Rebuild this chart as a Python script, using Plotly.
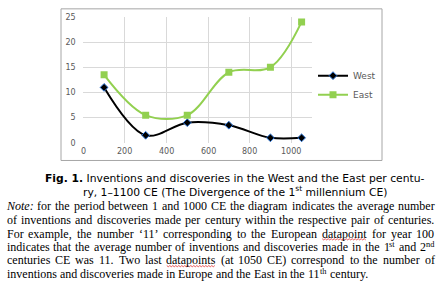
import re
import plotly.graph_objects as go

years = [100, 300, 500, 700, 900, 1050]
west = [11, 1.5, 4, 3.5, 1, 1]
east = [13.5, 5.5, 5.5, 14, 15, 24]
x_ticks = [0, 200, 400, 600, 800, 1000]
y_ticks = [0, 5, 10, 15, 20, 25]

W, H = 442, 289

def px(x):
    return x / W

def py(y):
    return 1 - y / H

fig = go.Figure()
fig.add_trace(go.Scatter(
    x=years, y=west, name="West", mode="lines+markers",
    line=dict(color="#000000", width=2, shape="spline", smoothing=1.0),
    marker=dict(symbol="diamond", size=6, color="#000000",
                line=dict(color="#2E75D6", width=1)),
))
fig.add_trace(go.Scatter(
    x=years, y=east, name="East", mode="lines+markers",
    line=dict(color="#92D050", width=2, shape="spline", smoothing=1.0),
    marker=dict(symbol="square", size=7, color="#92D050"),
))

tick_font = dict(family="DejaVu Sans", size=8, color="#595959")
fig.update_layout(
    width=W, height=H,
    margin=dict(l=0, r=0, t=0, b=0),
    paper_bgcolor="white", plot_bgcolor="white",
    xaxis=dict(domain=[px(83.3), px(312)], range=[0, 1100],
               tickvals=x_ticks, showgrid=True, gridcolor="#D9D9D9", gridwidth=1,
               zeroline=False, showline=False, ticks="", showticklabels=False,
               fixedrange=True),
    yaxis=dict(domain=[py(143.3), py(13.3)], range=[0, 25],
               tickvals=y_ticks, showgrid=True, gridcolor="#D9D9D9", gridwidth=1,
               zeroline=False, showline=False, ticks="outside", ticklen=5,
               tickcolor="rgba(0,0,0,0)", tickfont=tick_font, fixedrange=True),
    legend=dict(x=px(313), y=py(59), xanchor="left", yanchor="top",
                font=dict(family="DejaVu Sans", size=9, color="#595959"),
                itemwidth=30, bgcolor="rgba(0,0,0,0)", tracegroupgap=0),
    showlegend=True,
)

# x tick labels placed on the x scale
for v in x_ticks:
    fig.add_annotation(text=str(v), xref="x", yref="paper", x=v, y=py(152),
                       xanchor="center", yanchor="middle", showarrow=False,
                       font=tick_font, borderpad=0)

# chart frame
fig.add_shape(type="rect", xref="paper", yref="paper",
              x0=px(61), x1=px(382), y0=py(161.5), y1=py(5),
              line=dict(color="#A6A6A6", width=1), fillcolor="rgba(0,0,0,0)")

cap_font = dict(family="DejaVu Sans", size=10.75, color="#000000")
caption = [
    "<b>Fig. 1.</b> Inventions and discoveries in the West and the East per centu-",
    "ry, 1\u20131100 CE (The Divergence of the 1<sup>st</sup> millennium CE)",
]
cap_y = [180, 194]
for t, yy in zip(caption, cap_y):
    fig.add_annotation(text=t, xref="paper", yref="paper", x=px(234.5), y=py(yy),
                       xanchor="center", yanchor="middle", showarrow=False, font=cap_font)

# ---- justified note (Times metrics, units per 1000 em) ----
ROMAN = {
    ' ': 250, 'a': 444, 'b': 500, 'c': 444, 'd': 500, 'e': 444, 'f': 333, 'g': 500,
    'h': 500, 'i': 278, 'j': 278, 'k': 500, 'l': 278, 'm': 778, 'n': 500, 'o': 500,
    'p': 500, 'q': 500, 'r': 333, 's': 389, 't': 278, 'u': 500, 'v': 500, 'w': 722,
    'x': 500, 'y': 500, 'z': 444,
    'A': 722, 'B': 667, 'C': 667, 'D': 722, 'E': 611, 'F': 556, 'G': 722, 'H': 722,
    'I': 333, 'J': 389, 'K': 722, 'L': 611, 'M': 889, 'N': 722, 'O': 722, 'P': 556,
    'Q': 722, 'R': 667, 'S': 556, 'T': 611, 'U': 722, 'V': 722, 'W': 944, 'X': 722,
    'Y': 722, 'Z': 611, '.': 250, ',': 250, ':': 278, '(': 333, ')': 333,
    '\u2018': 333, '\u2019': 333, '-': 333,
}
ITALIC = dict(ROMAN)
ITALIC.update({'N': 667, ':': 333})

NOTE_SIZE = 12
SUP_SIZE = NOTE_SIZE * 0.7
NOTE_LEFT, NOTE_RIGHT = 7, 434.5


def segments(word):
    """Split a word into (text, italic, sup) runs."""
    out = []
    italic = False
    sup = False
    for tok in re.split(r'(<[^>]+>)', word):
        if tok.startswith('<'):
            if tok == '<i>': italic = True
            elif tok == '</i>': italic = False
            elif tok == '<sup>': sup = True
            elif tok == '</sup>': sup = False
            continue
        if tok:
            out.append((tok, italic, sup))
    return out


def seg_width(seg):
    tok, italic, sup = seg
    table = ITALIC if italic else ROMAN
    size = SUP_SIZE if sup else NOTE_SIZE
    return sum(table.get(c, 500) for c in tok) * size / 1000.0


def word_width(word):
    return sum(seg_width(s) for s in segments(word))


note = [
    "<i>Note:</i> for the period between 1 and 1000 CE the diagram indicates the average number",
    "of inventions and discoveries made per century within the respective pair of centuries.",
    "For example, the number \u201811\u2019 corresponding to the European datapoint for year 100",
    "indicates that the average number of inventions and discoveries made in the 1<sup>st</sup> and 2<sup>nd</sup>",
    "centuries CE was 11. Two last datapoints (at 1050 CE) correspond to the number of",
    "inventions and discoveries made in Europe and the East in the 11<sup>th</sup> century.",
]
note_y = [209, 223, 237, 250.8, 264.7, 278.6]
misspelled = {"datapoint", "datapoints"}

for li, (line, yy) in enumerate(zip(note, note_y)):
    words = line.split(' ')
    widths = [word_width(w) for w in words]
    if li < len(note) - 1:
        gap = (NOTE_RIGHT - NOTE_LEFT - sum(widths)) / (len(words) - 1)
    else:
        gap = ROMAN[' '] * NOTE_SIZE / 1000.0
    xpos = NOTE_LEFT
    for w, wd in zip(words, widths):
        sx = xpos
        for seg in segments(w):
            sw = seg_width(seg)
            tok, italic, sup = seg
            txt = f"<i>{tok}</i>" if italic else tok
            fig.add_annotation(
                text=txt, xref="paper", yref="paper", x=px(sx + sw / 2),
                y=py(yy - 3.0 if sup else yy), xanchor="center", yanchor="middle",
                showarrow=False, borderpad=0,
                font=dict(family="Liberation Serif", size=SUP_SIZE if sup else NOTE_SIZE,
                          color="#000000"))
            sx += sw
        if w in misspelled:
            # red wavy spell-check underline
            base = yy + 5.5
            pts = []
            x = xpos
            k = 0
            while x <= xpos + wd:
                pts.append((x, base + (1 if k % 2 else -0.2)))
                x += 1.5
                k += 1
            path = "M" + " L".join(f"{px(a):.5f},{py(b):.5f}" for a, b in pts)
            fig.add_shape(type="path", xref="paper", yref="paper", path=path,
                          line=dict(color="#E03030", width=0.8))
        xpos += wd + gap

fig.write_html("out.html")
